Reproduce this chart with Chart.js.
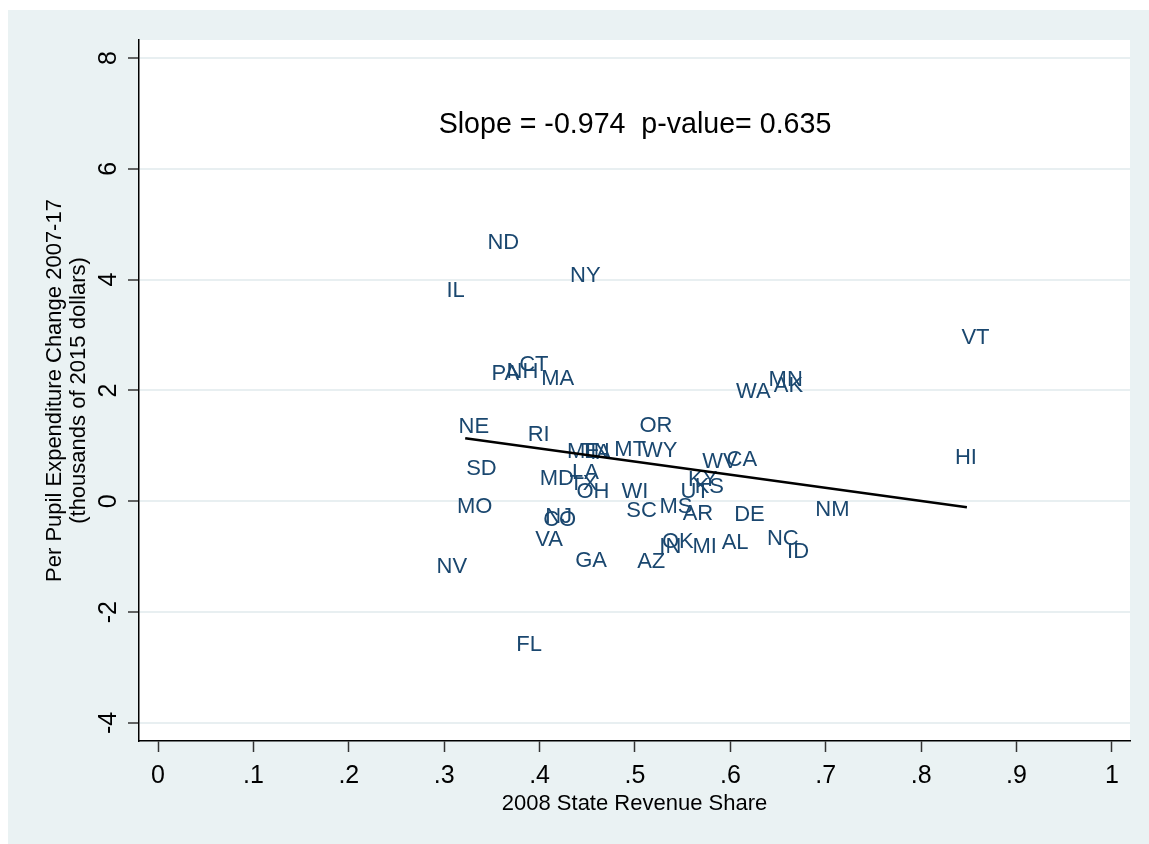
<!DOCTYPE html>
<html>
<head>
<meta charset="utf-8">
<script src="https://cdn.jsdelivr.net/npm/chart.js@4"></script>
<style>
  html, body { margin: 0; padding: 0; background: #fff; overflow: hidden; }
  #wrap { position: relative; width: 1149px; height: 844px; }
</style>
</head>
<body>
<div id="wrap"><canvas id="c" width="1149" height="844"></canvas></div>
<script>
// State abbreviations and their values
const states = ['ND','NY','IL','PA','NH','CT','MA','WA','MN','AK','VT','HI',
  'NE','RI','OR','ME','TN','IA','MT','WY','WV','CA','SD','MD','LA','TX','OH',
  'WI','KY','KS','UT','MO','NJ','CO','SC','MS','AR','DE','NM','VA','GA','AZ',
  'IN','OK','MI','AL','NC','ID','NV','FL'];
// 2008 state share of school revenue
const revenueShare = [0.362,0.448,0.312,0.364,0.382,0.394,0.419,0.624,0.658,0.661,0.857,0.847,
  0.331,0.399,0.522,0.446,0.458,0.464,0.495,0.526,0.589,0.612,0.339,0.418,0.448,0.446,0.456,
  0.500,0.571,0.578,0.563,0.332,0.420,0.421,0.507,0.543,0.566,0.620,0.707,0.410,0.454,0.517,
  0.537,0.545,0.573,0.605,0.655,0.671,0.308,0.389];
// Change in per pupil expenditure 2007-17, thousands of 2015 dollars
const spendingChange = [4.69,4.10,3.83,2.33,2.37,2.50,2.24,2.01,2.23,2.12,2.98,0.82,
  1.38,1.23,1.40,0.93,0.93,0.91,0.96,0.94,0.75,0.78,0.62,0.44,0.55,0.35,0.20,
  0.20,0.42,0.29,0.20,-0.07,-0.25,-0.30,-0.14,-0.07,-0.19,-0.21,-0.12,-0.66,-1.04,-1.06,
  -0.79,-0.70,-0.79,-0.72,-0.64,-0.88,-1.15,-2.56];

// Linear fit endpoints
const fitShare = [0.322, 0.848];
const fitChange = [1.137, -0.108];

// Axis ticks
const xTicks = [0, 0.1, 0.2, 0.3, 0.4, 0.5, 0.6, 0.7, 0.8, 0.9, 1];
const xTickLabels = ['0', '.1', '.2', '.3', '.4', '.5', '.6', '.7', '.8', '.9', '1'];
const yTicks = [-4, -2, 0, 2, 4, 6, 8];
const yTickLabels = ['-4', '-2', '0', '2', '4', '6', '8'];

// Regression note
const noteText = 'Slope = -0.974  p-value= 0.635';
const notePos = [0.5, 6.83];

const FONT = '"Liberation Sans", Arial, sans-serif';

const backdrop = {
  id: 'backdrop',
  beforeDraw(chart) {
    const { ctx, width, height, chartArea: a } = chart;
    ctx.save();
    ctx.fillStyle = '#ffffff';
    ctx.fillRect(0, 0, width, height);
    ctx.fillStyle = '#eaf2f3';
    ctx.fillRect(8, 10, width - 8, height - 10);
    ctx.fillStyle = '#ffffff';
    ctx.fillRect(a.left, a.top, a.right - a.left, a.bottom - a.top);
    ctx.restore();
  }
};

// Text markers: each abbreviation is centred on its point (cap height centred)
const stateLabels = {
  id: 'stateLabels',
  beforeDatasetsDraw(chart) {
    const ctx = chart.ctx;
    const meta = chart.getDatasetMeta(0);
    ctx.save();
    ctx.font = '22px ' + FONT;
    ctx.fillStyle = '#1a476f';
    ctx.textAlign = 'center';
    ctx.textBaseline = 'alphabetic';
    const capHalf = 22 * 0.36;
    meta.data.forEach((pt, i) => ctx.fillText(states[i], pt.x, pt.y + capHalf));
    const xs = chart.scales.x, ys = chart.scales.y;
    ctx.font = '28.6px ' + FONT;
    ctx.fillStyle = '#000000';
    ctx.fillText(noteText, xs.getPixelForValue(notePos[0]), ys.getPixelForValue(notePos[1]) + 28.6 * 0.36);
    ctx.restore();
  }
};

new Chart(document.getElementById('c'), {
  type: 'scatter',
  data: {
    datasets: [
      {
        label: 'States',
        data: states.map((s, i) => ({ x: revenueShare[i], y: spendingChange[i] })),
        pointRadius: 0,
        pointHoverRadius: 0
      },
      {
        label: 'Fit',
        type: 'line',
        data: fitShare.map((x, i) => ({ x, y: fitChange[i] })),
        borderColor: '#000000',
        borderWidth: 2.5,
        pointRadius: 0,
        fill: false
      }
    ]
  },
  options: {
    responsive: false,
    animation: false,
    devicePixelRatio: 1,
    layout: { padding: { left: 0, top: 40, right: 19, bottom: 0 } },
    plugins: { legend: { display: false }, tooltip: { enabled: false } },
    scales: {
      x: {
        type: 'linear',
        min: -0.02,
        max: 1.019,
        afterBuildTicks: s => { s.ticks = xTicks.map(v => ({ value: v })); },
        afterFit: s => { s.height = 103; },
        ticks: {
          autoSkip: false,
          maxRotation: 0,
          padding: 9,
          color: '#000000',
          font: { family: FONT, size: 25 },
          callback: v => xTickLabels[xTicks.indexOf(v)]
        },
        grid: {
          drawOnChartArea: false,
          drawTicks: true,
          tickLength: 11,
          tickColor: '#333333',
          tickWidth: 1.5
        },
        border: { display: true, color: '#000000', width: 1.5 },
        title: {
          display: true,
          text: '2008 State Revenue Share',
          color: '#000000',
          font: { family: FONT, size: 22 },
          padding: { top: 0, bottom: 27 }
        }
      },
      y: {
        type: 'linear',
        min: -4.325,
        max: 8.325,
        afterBuildTicks: s => { s.ticks = yTicks.map(v => ({ value: v })); },
        afterFit: s => { s.width = 139; },
        ticks: {
          autoSkip: false,
          minRotation: 90,
          maxRotation: 90,
          crossAlign: 'center',
          padding: 8,
          color: '#000000',
          font: { family: FONT, size: 25 },
          callback: v => yTickLabels[yTicks.indexOf(v)]
        },
        grid: {
          color: '#e8eff1',
          lineWidth: 2,
          drawTicks: true,
          tickLength: 11,
          tickColor: '#333333',
          tickWidth: 1.5
        },
        border: { display: true, color: '#000000', width: 1.5 },
        title: {
          display: true,
          text: ['Per Pupil Expenditure Change 2007-17', '(thousands of 2015 dollars)'],
          color: '#000000',
          font: { family: FONT, size: 22, lineHeight: 1.09 },
          padding: { top: 43, bottom: 0 }
        }
      }
    }
  },
  plugins: [backdrop, stateLabels]
});
</script>
</body>
</html>
